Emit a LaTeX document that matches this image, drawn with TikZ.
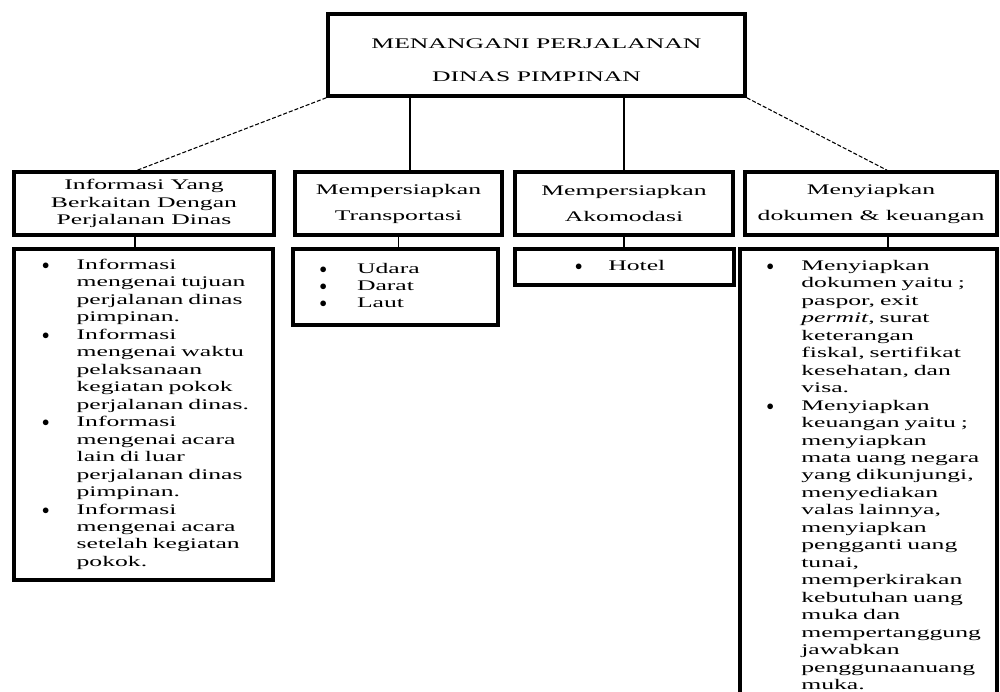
\documentclass[tikz,border=0pt]{standalone}
\usepackage{fontspec}
\setmainfont{Liberation Serif}[FakeStretch=1.75]

\begin{document}
\begin{tikzpicture}[x=0.75pt,y=-0.75pt,
  box/.style={draw,line width=2.7pt,align=center,inner sep=0pt,font=\fontsize{11}{13.1}\selectfont},
  listbox/.style={draw,line width=2.7pt,inner sep=0pt,align=left,font=\fontsize{11}{13.1}\selectfont},
  link/.style={line width=0.9pt},
  dashlink/.style={line width=0.8pt,dash pattern=on 3pt off 1.5pt}]
  \useasboundingbox (0,0) rectangle (1000,692);
  \clip (0,0) rectangle (1000,692);

  \node[box,minimum width=312.75pt,minimum height=61.5pt] (top) at (536.5,55)
    {\rule{0pt}{15pt}MENANGANI PERJALANAN\\[11.6pt] DINAS PIMPINAN};

  \node[box,minimum width=195pt,minimum height=47.25pt] (info) at (144,203.5)
    {Informasi Yang\\ Berkaitan Dengan\\ Perjalanan Dinas};
  \node[box,minimum width=155.25pt,minimum height=47.25pt] (trans) at (398.5,203.5)
    {Mempersiapkan\\[6.4pt] Transportasi};
  \node[box,minimum width=163.5pt,minimum height=47.25pt] (akom) at (624,203.5)
    {Mempersiapkan\\[6.4pt] Akomodasi};
  \node[box,minimum width=189pt,minimum height=47.25pt] (dok) at (871,203.5)
    {Menyiapkan\\[6.4pt] dokumen \& keuangan};

  \node[listbox,text width=194.25pt,minimum height=248.25pt] (infolist) at (143.5,414.5) {%
    \begin{tabular}{@{\hspace{21pt}}p{26pt}@{}l@{}}
      $\bullet$ & Informasi\\
       & mengenai tujuan\\
       & perjalanan dinas\\
       & pimpinan.\\
      $\bullet$ & Informasi\\
       & mengenai waktu\\
       & pelaksanaan\\
       & kegiatan pokok\\
       & perjalanan dinas.\\
      $\bullet$ & Informasi\\
       & mengenai acara\\
       & lain di luar\\
       & perjalanan dinas\\
       & pimpinan.\\
      $\bullet$ & Informasi\\
       & mengenai acara\\
       & setelah kegiatan\\
       & pokok.
    \end{tabular}};
  \node[listbox,text width=153.75pt,minimum height=57pt] (translist) at (395.5,287) {%
    \begin{tabular}{@{\hspace{20pt}}p{28pt}@{}l@{}}
      $\bullet$ & Udara\\
      $\bullet$ & Darat\\
      $\bullet$ & Laut
    \end{tabular}};
  \node[listbox,text width=164.25pt,minimum height=27pt] (akomlist) at (624.5,267) {%
    \begin{tabular}{@{\hspace{45pt}}p{25pt}@{}l@{}}
      $\bullet$ & Hotel
    \end{tabular}};
  \node[listbox,text width=192.75pt,minimum height=341.25pt] (doklist) at (868.5,476.5) {%
    \begin{tabular}{@{\hspace{20pt}}p{26pt}@{}l@{}}
      $\bullet$ & Menyiapkan\\
       & dokumen yaitu ;\\
       & paspor, exit\\
       & \textit{permit}, surat\\
       & keterangan\\
       & fiskal, sertifikat\\
       & kesehatan, dan\\
       & visa.\\
      $\bullet$ & Menyiapkan\\
       & keuangan yaitu ;\\
       & menyiapkan\\
       & mata uang negara\\
       & yang dikunjungi,\\
       & menyediakan\\
       & valas lainnya,\\
       & menyiapkan\\
       & pengganti uang\\
       & tunai,\\
       & memperkirakan\\
       & kebutuhan uang\\
       & muka dan\\
       & mempertanggung\\
       & jawabkan\\
       & penggunaanuang\\
       & muka.
    \end{tabular}};

  % connectors from the top box
  \draw[dashlink] (top.south west) -- ([xshift=-5pt]info.north);
  \coordinate (t2) at ([xshift=8.6pt]trans.north);
  \draw[link] (t2) -- (t2 |- top.south);
  \draw[link] (akom.north) -- (akom.north |- top.south);
  \draw[dashlink] (top.south east) -- ([xshift=12pt]dok.north);

  % boxes to their lists
  \coordinate (l1) at ([xshift=-6.75pt]info.south);
  \draw[link] (l1) -- (l1 |- infolist.north);
  \draw[link] (trans.south) -- (trans.south |- translist.north);
  \draw[link] (akom.south) -- (akom.south |- akomlist.north);
  \coordinate (l4) at ([xshift=12.75pt]dok.south);
  \draw[link] (l4) -- (l4 |- doklist.north);
\end{tikzpicture}
\end{document}
